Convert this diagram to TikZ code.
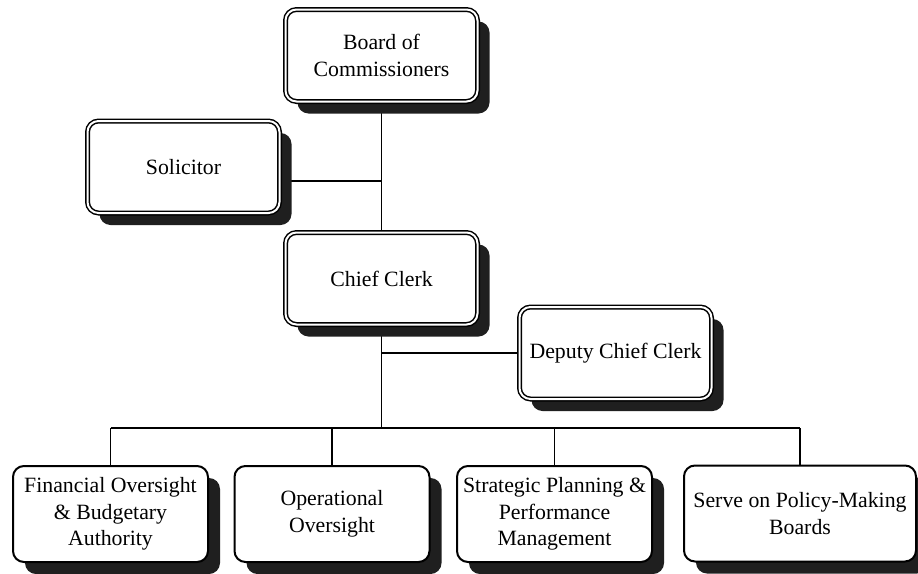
\documentclass[tikz,border=0pt]{standalone}
\usepackage{fontspec}
\setmainfont{Liberation Serif}
\usetikzlibrary{shadows}
\pgfdeclarelayer{background}
\pgfsetlayers{background,main}
\begin{document}
\begin{tikzpicture}[x=1pt,y=-1pt,
  every node/.style={font=\fontsize{21.8}{26.5}\selectfont, align=center, inner sep=0pt},
  shadowed/.style={drop shadow={shadow xshift=12pt, shadow yshift=-12pt, fill=black!88, opacity=1}},
  officebox/.style={shadowed, draw=black, double=white, double distance=2pt, line width=1.5pt,
    rounded corners=11pt, fill=white, minimum width=192pt, minimum height=92pt},
  dutybox/.style={shadowed, draw=black, line width=2pt, rounded corners=11pt, fill=white,
    minimum width=195pt, minimum height=96pt},
  link/.style={draw=black, line width=1.6pt}]
\useasboundingbox (0,0) rectangle (918,573);

% offices
\node[officebox] (board) at (381.5,55.5) {Board of\\Commissioners};
\node[officebox] (sol)   at (183.5,167)  {Solicitor};
\node[officebox] (chief) at (381.5,278.5) {Chief Clerk};
\node[officebox] (dep)   at (615.5,353)  {Deputy Chief Clerk};

% duties
\node[dutybox] (fin)   at (110.5,514) {Financial Oversight\\\& Budgetary\\Authority};
\node[dutybox] (ops)   at (332,514)   {Operational\\Oversight};
\node[dutybox] (strat) at (554.5,514) {Strategic Planning \&\\Performance\\Management};
\node[dutybox, minimum width=232pt] (serve) at (800,513.5) {Serve on Policy-Making\\Boards};

% junction points on the trunk
\coordinate (solj) at (381.5,181);
\coordinate (depj) at (381.5,353);
\coordinate (bus)  at (381.5,428);

\begin{pgfonlayer}{background}
  \fill[white] (0,0) rectangle (918,573);
  \draw[link] (board.south) -- (chief.north);
  \draw[link] (solj) -- (solj -| sol.east);
  \draw[link] (chief.south) -- (bus);
  \draw[link] (depj) -- (dep.west);
  \draw[link] (bus -| fin.north) -- (bus -| serve.north);
  \draw[link] (bus -| fin.north) -- (fin.north);
  \draw[link] (bus -| ops.north) -- (ops.north);
  \draw[link] (bus -| strat.north) -- (strat.north);
  \draw[link] (bus -| serve.north) -- (serve.north);
\end{pgfonlayer}
\end{tikzpicture}
\end{document}
